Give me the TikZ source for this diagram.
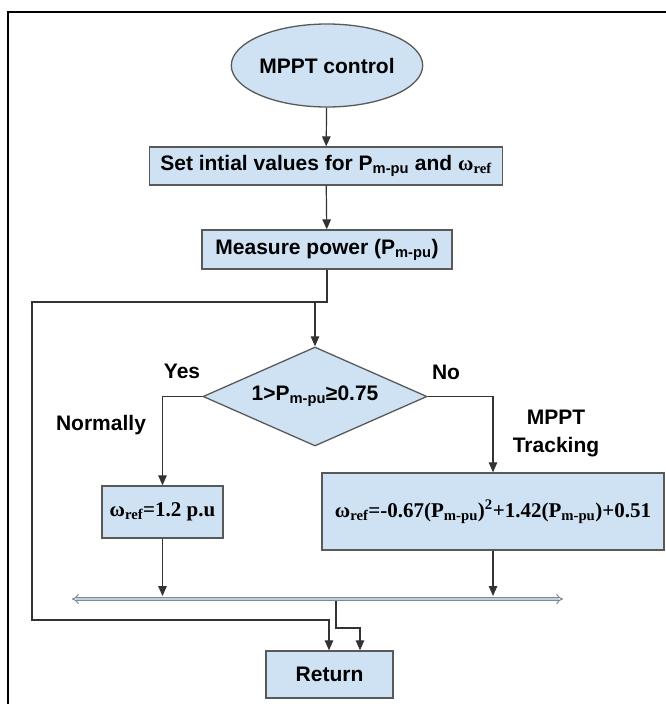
\documentclass[tikz,border=0pt]{standalone}
\usepackage{fontspec}
\setmainfont{Liberation Sans}
\newfontfamily\timesfont{Liberation Serif}
\usetikzlibrary{shapes.geometric, arrows.meta}
\definecolor{boxfill}{HTML}{CFE2F3}
\definecolor{boxedge}{HTML}{595959}
\definecolor{wire}{HTML}{333333}
\definecolor{busedge}{HTML}{7D8A96}
\tikzstyle{block}=[draw=boxedge, fill=boxfill, line width=1.3pt, inner sep=0pt, font=\bfseries\fontsize{21}{25}\selectfont]
\tikzstyle{tag}=[inner sep=0pt, font=\bfseries\fontsize{21}{28}\selectfont, align=center]
\tikzstyle{flow}=[draw=wire, line width=1.2pt, -{Triangle[length=10pt,width=8.5pt]}]
\tikzstyle{bus}=[draw=busedge, line width=1pt, double=boxfill!80!gray, double distance=2.4pt, {Implies}-{Implies}]
\newcommand{\Pmpu}{P\textsubscript{m-pu}}
\newcommand{\formula}{\timesfont\fontsize{21}{25}\selectfont}

\begin{document}
\begin{tikzpicture}[x=1pt, y=-1pt]
    \useasboundingbox (0,0) rectangle (666,704);
% Frame
    \draw[line width=2.5pt] (8,704) -- (8,12) -- (666,12);
% Steps
    \node[ellipse, block, minimum width=158pt, minimum height=83pt] (start) at (327,65.5) {MPPT control};
    \node[block, minimum width=353pt, minimum height=38pt] (init) at (326,166) {Set intial values for \Pmpu{} and {\formula ω\textsubscript{ref}}};
    \node[block, minimum width=250pt, minimum height=39pt] (measure) at (327,249.5) {Measure power (\Pmpu)};
    \node[diamond, block, aspect=2.26, minimum width=224pt, minimum height=99pt] (check) at (315,396.5) {1>\Pmpu≥0.75};
    \node[block, minimum width=121pt, minimum height=52pt] (normal) at (162.5,512) {\formula ω\textsubscript{ref}=1.2 p.u};
    \node[block, minimum width=342pt, minimum height=77pt] (track) at (493,511.5) {\formula ω\textsubscript{ref}=-0.67(\Pmpu)\textsuperscript{2}+1.42(\Pmpu)+0.51};
    \node[block, minimum width=127pt, minimum height=47pt] (ret) at (329.5,674.5) {Return};
% Branch labels
    \node[tag] (yes) at (182,371) {Yes};
    \node[tag] (no) at (446,372) {No};
    \node[tag] (normally) at (101,425) {Normally};
    \node[tag] (tracking) at (556,433) {MPPT\\Tracking};
% Junctions
    \coordinate (loopT) at (32,302);
    \coordinate (loopB) at (32,620);
    \coordinate (busL) at (72,599);
    \coordinate (busR) at (563,599);
    \coordinate (busJ) at (336,599);
% Wires
    \draw[flow] (start) -- (init);
    \draw[flow] (init) -- (measure);
    \draw[flow] (measure.south) |- (loopT) -- (loopB) -| ([xshift=-0.5pt]ret.north);
    \draw[flow] (check.north |- loopT) -- (check.north);
    \draw[flow] (check.west) -| (normal.north);
    \draw[flow] (check.east) -| (track.north);
    \draw[flow, shorten >=3pt] (normal.south) -- (normal.south |- busL);
    \draw[flow, shorten >=3pt] (track.south) -- (track.south |- busL);
    \draw[flow] (busJ) -- ++(0,29) -| ([xshift=30.5pt]ret.north);
    \draw[bus] (busL) -- (busR);
\end{tikzpicture}
\end{document}
